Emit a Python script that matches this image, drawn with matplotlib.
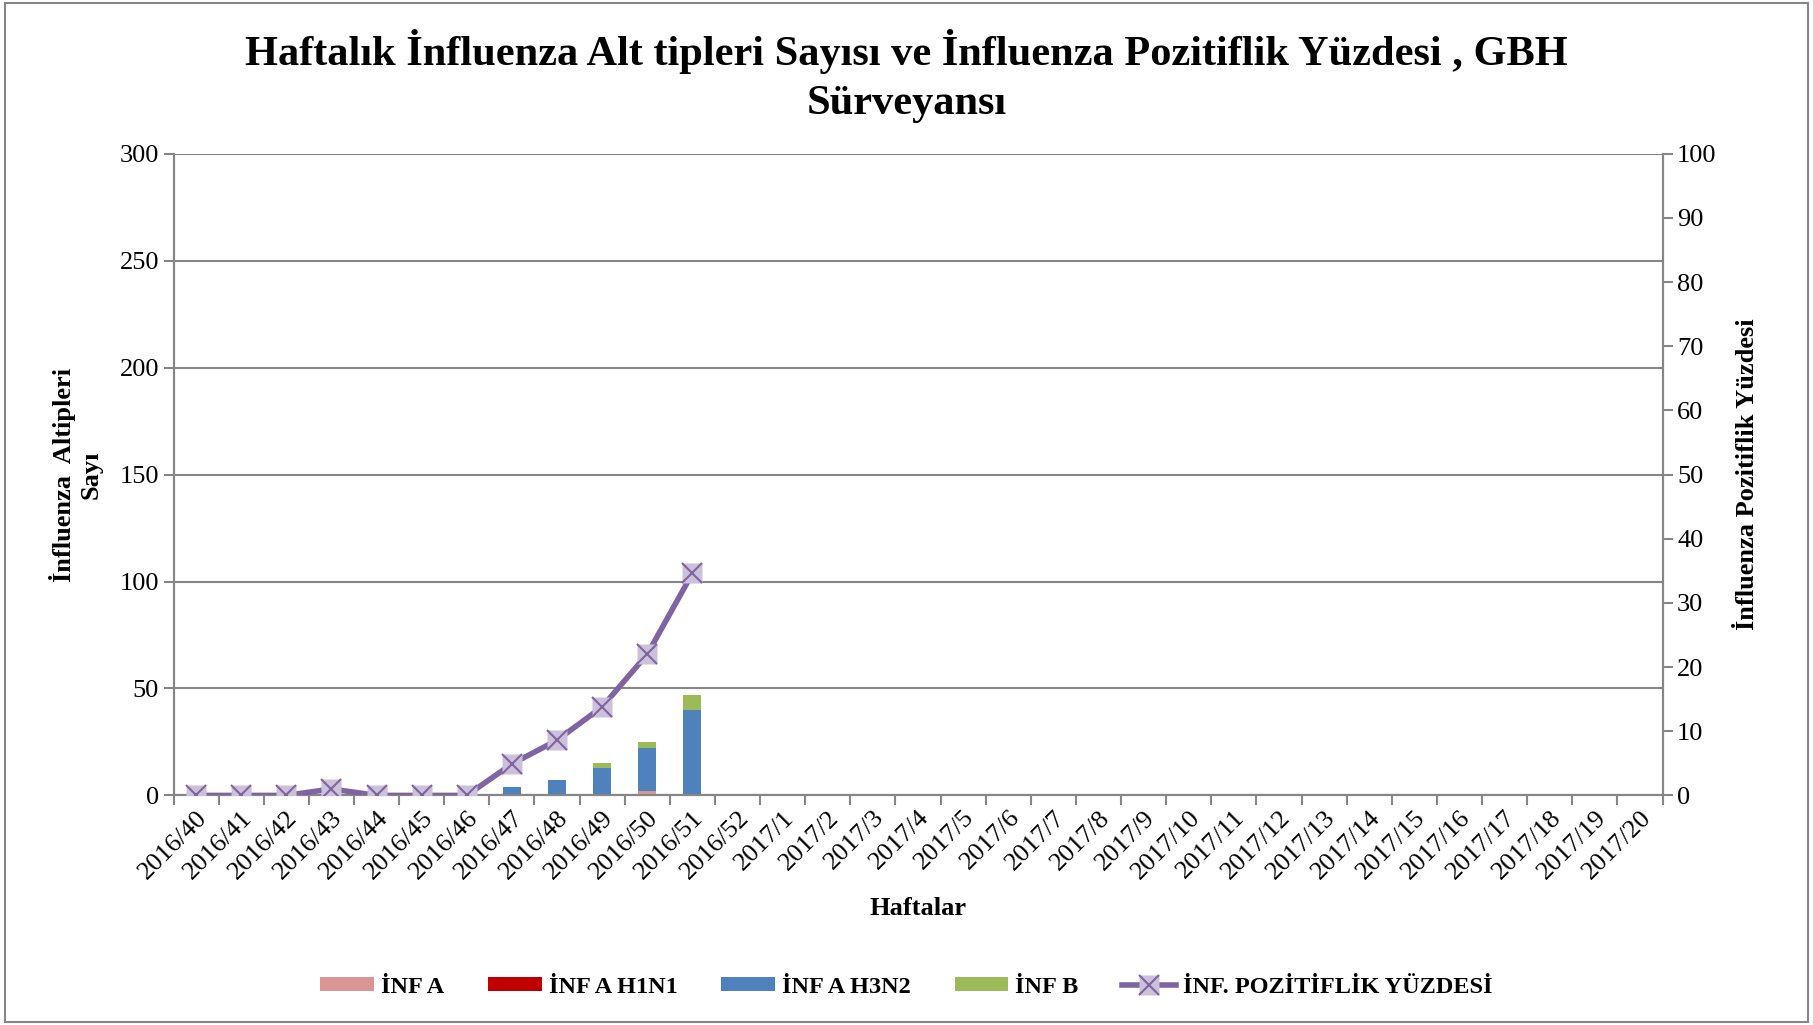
import matplotlib.pyplot as plt
import numpy as np
from matplotlib.legend_handler import HandlerTuple
from matplotlib.lines import Line2D
from matplotlib.patches import Rectangle

plt.rcParams['font.family'] = ['Liberation Serif', 'DejaVu Serif']

weeks = ['2016/40', '2016/41', '2016/42', '2016/43', '2016/44', '2016/45', '2016/46',
         '2016/47', '2016/48', '2016/49', '2016/50', '2016/51', '2016/52',
         '2017/1', '2017/2', '2017/3', '2017/4', '2017/5', '2017/6', '2017/7',
         '2017/8', '2017/9', '2017/10', '2017/11', '2017/12', '2017/13', '2017/14',
         '2017/15', '2017/16', '2017/17', '2017/18', '2017/19', '2017/20']

# counts per week (only weeks with data so far)
inf_a = [0, 0, 0, 0, 0, 0, 0, 0, 0, 0, 2, 0]
inf_h1n1 = [0, 0, 0, 0, 0, 0, 0, 0, 0, 0, 0, 0]
inf_h3n2 = [0, 0, 0, 0, 0, 0, 0, 4, 7, 13, 20, 40]
inf_b = [0, 0, 0, 0, 0, 0, 0, 0, 0, 2, 3, 7]
pozitiflik = [0, 0, 0, 1.0, 0, 0, 0, 4.9, 8.6, 13.8, 22.0, 34.6]

c_a = '#d99694'
c_h1 = '#c00000'
c_h3 = '#4f81bd'
c_b = '#9bbb59'
c_line = '#8064a2'
c_mark = '#ccc1da'
grid_c = '#868686'

fig = plt.figure(figsize=(18.13, 10.25), dpi=100)
ax = fig.add_axes([0.0957, 0.224, 0.8213, 0.626])
ax2 = ax.twinx()

n = len(inf_a)
x = np.arange(n)
w = 0.4
a = np.array(inf_a)
h1 = np.array(inf_h1n1)
h3 = np.array(inf_h3n2)
b = np.array(inf_b)
ax.bar(x, a, w, color=c_a, label='İNF A', zorder=3)
ax.bar(x, h1, w, bottom=a, color=c_h1, label='İNF A H1N1', zorder=3)
ax.bar(x, h3, w, bottom=a + h1, color=c_h3, label='İNF A H3N2', zorder=3)
ax.bar(x, b, w, bottom=a + h1 + h3, color=c_b, label='İNF B', zorder=3)

ax2.plot(x, pozitiflik, color=c_line, lw=4, zorder=4)
ax2.plot(x, pozitiflik, ls='none', marker='s', ms=15, mfc=c_mark, mec='none', zorder=5)
ax2.plot(x, pozitiflik, ls='none', marker='x', ms=15, mew=1.5, color=c_line, zorder=6)

ax.set_xlim(-0.5, len(weeks) - 0.5)
ax.set_ylim(0, 300)
ax.set_yticks(range(0, 301, 50))
ax2.set_ylim(0, 100)
ax2.set_yticks(range(0, 101, 10))

ax.set_xticks(np.arange(len(weeks)))
ax.set_xticklabels(weeks, rotation=45, ha='right', rotation_mode='anchor', fontsize=19)
ax.set_xticks(np.arange(len(weeks) + 1) - 0.5, minor=True)
ax.tick_params(axis='x', which='major', length=0, pad=8)
ax.tick_params(axis='x', which='minor', length=7, color=grid_c, width=1.5)
ax.tick_params(axis='y', labelsize=19, length=7, color=grid_c, width=1.5)
ax2.tick_params(axis='y', labelsize=19, length=7, color=grid_c, width=1.5)

ax.yaxis.grid(True, color=grid_c, lw=1.5, zorder=0)
ax.set_axisbelow(True)
for s in ['left', 'bottom', 'right']:
    ax.spines[s].set_color(grid_c)
    ax.spines[s].set_linewidth(1.5)
    ax2.spines[s].set_color(grid_c)
    ax2.spines[s].set_linewidth(1.5)
ax.spines['top'].set_visible(False)
ax2.spines['top'].set_visible(False)

ax.set_xlabel('Haftalar', fontsize=19, fontweight='bold', labelpad=10)
ax.set_ylabel('İnfluenza  Altipleri\nSayı', fontsize=19, fontweight='bold', labelpad=12)
ax2.set_ylabel('İnfluenza Pozitiflik Yüzdesi', fontsize=19, fontweight='bold', labelpad=14)

fig.suptitle('Haftalık İnfluenza Alt tipleri Sayısı ve İnfluenza Pozitiflik Yüzdesi , GBH\nSürveyansı',
             fontsize=30.5, fontweight='bold', y=0.972, linespacing=1.38)

handles, labels = ax.get_legend_handles_labels()
ln = Line2D([], [], color=c_line, lw=4)
sq = Line2D([], [], ls='none', marker='s', ms=15, mfc=c_mark, mec='none')
xm = Line2D([], [], ls='none', marker='x', ms=15, mew=1.5, color=c_line)
handles.append((ln, sq, xm))
labels.append('İNF. POZİTİFLİK YÜZDESİ')
fig.legend(handles, labels, loc='center', bbox_to_anchor=(0.5, 0.037), ncol=5,
           frameon=False, handler_map={tuple: HandlerTuple(ndivide=1)},
           prop={'weight': 'bold', 'size': 17.5}, handlelength=2.2, handleheight=0.5,
           handletextpad=0.3, columnspacing=1.8)

fig.patches.append(Rectangle((0.003, 0.003), 0.994, 0.994, transform=fig.transFigure,
                             fill=False, edgecolor=grid_c, lw=1.5))

fig.savefig('out.png', dpi=100)
